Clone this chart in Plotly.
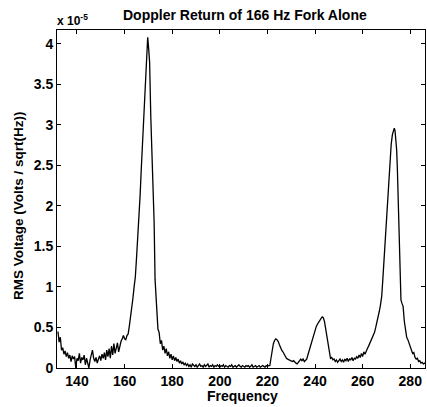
import plotly.graph_objects as go

# ---- data (RMS voltage in units of 1e-5 Volts/sqrt(Hz)) ----
seg1_freq = [132.0,132.5,133.0,133.5,134.0,134.5,135.0,135.5,136.0,136.5,137.0,137.5,138.0,138.5,139.0,139.5,
             140.0,140.5,141.0,141.5,142.0,142.5,143.0,143.5,144.0,144.5,145.0,145.5,146.0,146.5,147.0,147.5,
             148.0,148.5,149.0,149.5,150.0,150.5,151.0,151.5,152.0,152.5,153.0,153.5,154.0,154.5,155.0,155.5,
             156.0,156.5,157.0,157.5,158.0,158.5,159.0,159.5,160.0]
seg1_amp = [0.45,0.32,0.38,0.22,0.25,0.17,0.21,0.14,0.19,0.12,0.16,0.08,0.15,0.11,0.14,0.00,
            0.12,0.09,0.18,0.06,0.13,0.10,0.16,0.04,0.12,0.07,0.00,0.10,0.15,0.22,0.12,0.08,
            0.13,0.06,0.11,0.15,0.09,0.17,0.12,0.19,0.10,0.22,0.14,0.24,0.12,0.27,0.16,0.30,
            0.18,0.26,0.31,0.20,0.28,0.33,0.36,0.40,0.36]

seg2_freq = [160.5,161.0,161.5,162.0,162.5,163.0,163.5,164.0,164.5,165.0,165.5,166.0,166.5,167.0,167.5,168.0,
             168.5,169.0,169.4,169.7,170.0,170.5,171.0,171.5,172.0,172.4,172.8,173.2,173.6,174.0,174.5,175.0,
             175.5,176.0,176.5,177.0,177.5,178.0,178.5,179.0,179.5,180.0,180.5,181.0,181.5,182.0,182.5,183.0,
             183.5,184.0,184.5,185.0,185.5,186.0]
seg2_amp = [0.35,0.40,0.42,0.52,0.62,0.74,0.86,1.00,1.12,1.35,1.58,1.81,2.12,2.45,2.78,3.12,
            3.47,3.78,4.00,4.08,3.98,3.78,3.10,2.65,2.15,1.80,1.09,0.85,0.62,0.48,0.44,0.30,
            0.34,0.22,0.27,0.18,0.24,0.15,0.20,0.12,0.17,0.10,0.15,0.09,0.13,0.08,0.11,0.06,
            0.09,0.05,0.07,0.04,0.06,0.03]

seg3_freq = [186.5,187.0,187.5,188.0,188.5,189.0,189.5,190.0,190.5,191.0,191.5,192.0,192.5,193.0,193.5,194.0,
             194.5,195.0,195.5,196.0,196.5,197.0,197.5,198.0,198.5,199.0,199.5,200.0,200.5,201.0,201.5,202.0,
             202.5,203.0,203.5,204.0,204.5,205.0,205.5,206.0,206.5,207.0,207.5,208.0,208.5,209.0,209.5,210.0,
             210.5,211.0,211.5,212.0,212.5,213.0,213.5,214.0,214.5,215.0,215.5,216.0,216.5,217.0,217.5,218.0,
             218.5,219.0,219.5,220.0,220.5]
seg3_amp = [0.05,0.02,0.04,0.01,0.05,0.03,0.02,0.04,0.01,0.03,
            0.05,0.02,0.03,0.01,0.04,0.02,0.03,0.05,0.01,0.03,
            0.02,0.04,0.01,0.03,0.02,0.04,0.02,0.01,0.03,0.02,
            0.04,0.01,0.03,0.02,0.01,0.03,0.02,0.04,0.01,0.02,
            0.03,0.01,0.02,0.04,0.02,0.01,0.03,0.02,0.01,0.03,
            0.02,0.03,0.01,0.02,0.04,0.01,0.02,0.03,0.01,0.02,
            0.03,0.01,0.02,0.03,0.02,0.01,0.03,0.02,0.03]

seg4_freq = [221.0,221.5,222.0,222.5,223.0,223.5,224.0,224.5,225.0,225.5,226.0,226.5,227.0,227.5,228.0,228.5,
             229.0,229.5,230.0,230.5,231.0,231.5,232.0,232.5,233.0,233.5,234.0,234.5,235.0,235.5,236.0,236.5,
             237.0,237.5,238.0,238.5,239.0,239.5,240.0,240.5,241.0,241.5,242.0,242.5,243.0,243.5,244.0,244.5,
             245.0,245.5,246.0,246.5,247.0,247.5,248.0]
seg4_amp = [0.03,0.12,0.24,0.30,0.34,0.36,0.35,0.33,0.29,0.25,0.22,0.20,0.17,0.14,0.12,0.11,
            0.10,0.09,0.09,0.08,0.09,0.07,0.06,0.05,0.07,0.10,0.11,0.09,0.11,0.08,0.09,0.11,
            0.16,0.21,0.27,0.33,0.38,0.43,0.47,0.51,0.54,0.57,0.59,0.61,0.63,0.62,0.57,0.48,
            0.37,0.27,0.18,0.12,0.13,0.10,0.11]

seg5_freq = [248.5,249.0,249.5,250.0,250.5,251.0,251.5,252.0,252.5,253.0,253.5,254.0,254.5,255.0,255.5,256.0,
             256.5,257.0,257.5,258.0,258.5,259.0,259.5,260.0,260.5,261.0,261.5,262.0,262.5,263.0,263.5,264.0,
             264.5,265.0,265.5,266.0,266.5,267.0,267.5,268.0]
seg5_amp = [0.08,0.10,0.07,0.09,0.11,0.08,0.10,0.07,0.11,0.09,0.12,0.08,0.11,0.10,0.13,0.09,
            0.12,0.11,0.14,0.12,0.16,0.13,0.18,0.14,0.20,0.17,0.22,0.24,0.27,0.30,0.33,0.36,
            0.39,0.44,0.50,0.56,0.63,0.70,0.78,0.88]

seg6_freq = [268.5,269.0,269.5,270.0,270.5,271.0,271.5,272.0,272.5,273.0,273.3,273.6,274.0,274.3,274.6,275.0,
             275.5,275.8,276.1,276.5,277.0,277.5,278.0,278.5,279.0,279.5,280.0,280.5,281.0,281.5,282.0,282.5,
             283.0,283.5,284.0,284.5,285.0,285.5,286.0,286.5]
seg6_amp = [1.10,1.35,1.62,1.90,2.12,2.35,2.58,2.76,2.88,2.94,2.96,2.93,2.82,2.69,2.45,2.07,
            1.45,1.05,0.84,0.80,0.76,0.58,0.45,0.38,0.35,0.31,0.26,0.22,0.18,0.19,0.13,0.11,
            0.12,0.08,0.09,0.06,0.07,0.05,0.06,0.05]

x_ticks = [140, 160, 180, 200, 220, 240, 260, 280]
y_ticks = [0, 0.5, 1, 1.5, 2, 2.5, 3, 3.5, 4]
y_tick_text = ["0", "0.5", "1", "1.5", "2", "2.5", "3", "3.5", "4"]

segs = [(seg1_freq, seg1_amp), (seg2_freq, seg2_amp), (seg3_freq, seg3_amp),
        (seg4_freq, seg4_amp), (seg5_freq, seg5_amp), (seg6_freq, seg6_amp)]
freq, amp = [], []
for f, a in segs:
    assert len(f) == len(a), (len(f), len(a))
    freq += f
    amp += a

FONT = "Liberation Sans, Arial, Helvetica, sans-serif"

fig = go.Figure()
fig.add_trace(go.Scatter(x=freq, y=amp, mode="lines",
                         line=dict(color="black", width=1.3), showlegend=False,
                         hoverinfo="skip"))

axis_common = dict(showline=True, linecolor="black", linewidth=1, mirror="ticks",
                   ticks="inside", ticklen=4, tickcolor="black", showgrid=False,
                   zeroline=False,
                   tickfont=dict(family=FONT, size=14, color="black", weight="bold"))

fig.update_xaxes(range=[131.6, 286.2], tickvals=x_ticks, **axis_common)
fig.update_yaxes(range=[0, 4.17], tickvals=y_ticks, ticktext=y_tick_text, **axis_common)

fig.update_layout(
    width=427, height=407,
    margin=dict(l=57, r=2, t=30, b=39),
    paper_bgcolor="white", plot_bgcolor="white",
    annotations=[
        dict(text="Doppler Return of 166 Hz Fork Alone", xref="paper", yref="paper",
             x=0.511, y=1, xanchor="center", yanchor="middle", yshift=15, showarrow=False,
             font=dict(family=FONT, size=14, color="black", weight="bold")),
        dict(text="x 10<sup>-5</sup>", xref="paper", yref="paper",
             x=0, y=1, xanchor="left", yanchor="bottom", yshift=0, xshift=-2, showarrow=False,
             font=dict(family=FONT, size=12, color="black", weight="bold")),
        dict(text="RMS Voltage (Volts / sqrt(Hz))", xref="paper", yref="paper",
             x=0, y=0.5, xanchor="center", yanchor="middle", xshift=-39, yshift=-7,
             textangle=-90, showarrow=False,
             font=dict(family=FONT, size=13.5, color="black", weight="bold")),
        dict(text="Frequency", xref="paper", yref="paper",
             x=0.505, y=0, xanchor="center", yanchor="middle", yshift=-28, showarrow=False,
             font=dict(family=FONT, size=14, color="black", weight="bold")),
    ],
)

fig.write_html("out.html",
               config={"displayModeBar": False, "staticPlot": True},
               post_script="document.body.style.margin='0';document.body.style.overflow='hidden';")
